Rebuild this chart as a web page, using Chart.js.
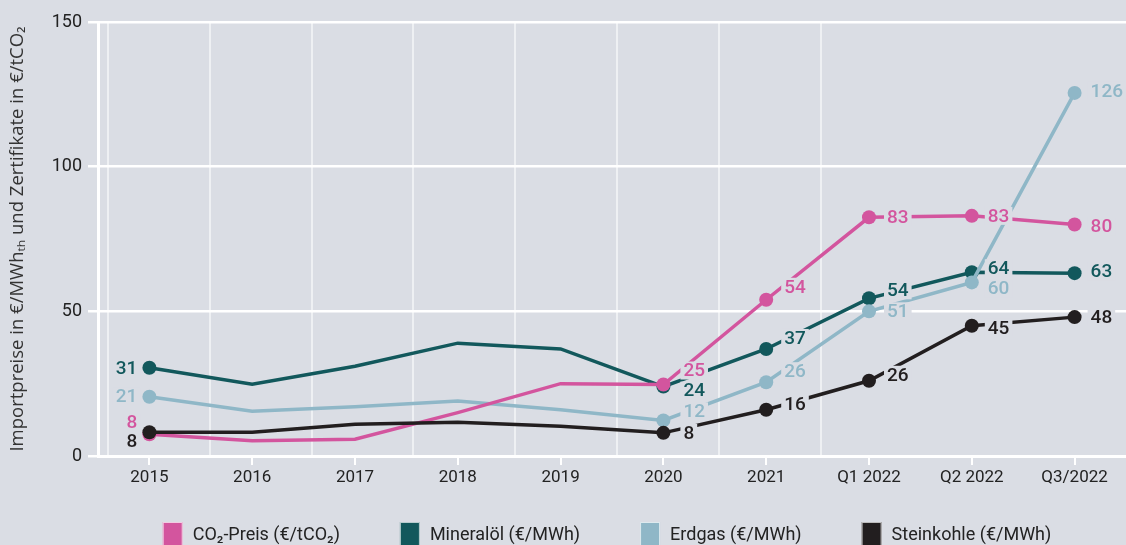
<!DOCTYPE html>
<html>
<head>
<meta charset="utf-8">
<script src="https://cdn.jsdelivr.net/npm/chart.js@4.4.1/dist/chart.umd.min.js"></script>
<style>
  html, body { margin: 0; padding: 0; background: #dadde4; overflow: hidden; }
  #wrap { width: 1133px; height: 545px; position: relative; }
</style>
</head>
<body>
<div id="wrap"><canvas id="chart"></canvas></div>
<script>
// Data
const categories = ['2015', '2016', '2017', '2018', '2019', '2020', '2021', 'Q1 2022', 'Q2 2022', 'Q3/2022'];
const co2 = [7.5, 5.3, 5.8, 15, 25, 24.7, 54, 82.5, 83, 80];
const mineraloel = [30.5, 24.8, 31, 39, 37, 24, 37, 54.5, 63.5, 63.2];
const erdgas = [20.5, 15.5, 17, 19, 16, 12.3, 25.5, 50, 60, 125.5];
const steinkohle = [8.2, 8.2, 11, 11.7, 10.3, 8, 16, 26, 45, 48];

const co2Labels = ['8', null, null, null, null, '25', '54', '83', '83', '80'];
const mineraloelLabels = ['31', null, null, null, null, '24', '37', '54', '64', '63'];
const erdgasLabels = ['21', null, null, null, null, '12', '26', '51', '60', '126'];
const steinkohleLabels = ['8', null, null, null, null, '8', '16', '26', '45', '48'];

const yTicks = [0, 50, 100, 150];

// Styles
const BG = '#dadde4';
const colors = {
  co2: '#d3559e',
  mineral: '#12585c',
  erdgas: '#8fb7c7',
  kohle: '#221e1f'
};
const labelDx = [-12, 0, 0, 0, 0, 20, 18, 18, 16, 16];
// vertical label shift per dataset (same order as datasets)
const labelDy = [
  [-12, 0, 0, 0, 0, -14, -13, 0, 0, 2],
  [0, 0, 0, 0, 0, 4, -11, -8, -4, -2],
  [0, 0, 0, 0, 0, -9, -11, 0, 6, -2],
  [9, 0, 0, 0, 0, 0, -5, -6, 2, 0]
];

function pointSizes(labels) {
  return labels.map(l => l === null ? 0 : 7);
}

function makeSet(label, data, labels, color, order) {
  return {
    label: label,
    data: data,
    valueLabels: labels,
    borderColor: color,
    backgroundColor: color,
    borderWidth: 3.5,
    pointRadius: pointSizes(labels),
    pointHoverRadius: pointSizes(labels),
    pointBorderWidth: 0,
    tension: 0,
    order: order
  };
}

const valueLabelPlugin = {
  id: 'valueLabels',
  afterDatasetsDraw(chart) {
    const ctx = chart.ctx;
    ctx.save();
    ctx.font = '500 19px Roboto';
    ctx.textBaseline = 'middle';
    chart.data.datasets.forEach((ds, i) => {
      const meta = chart.getDatasetMeta(i);
      ds.valueLabels.forEach((txt, j) => {
        if (txt === null) return;
        const pt = meta.data[j];
        const x = pt.x + labelDx[j];
        const y = pt.y + labelDy[i][j];
        const w = ctx.measureText(txt).width;
        const left = labelDx[j] < 0 ? x - w : x;
        ctx.fillStyle = BG;
        ctx.fillRect(left - 3, y - 9, w + 6, 18);
        ctx.fillStyle = ds.borderColor;
        ctx.textAlign = 'left';
        ctx.fillText(txt, left, y + 1);
      });
    });
    ctx.restore();
  }
};

const legendPlugin = {
  id: 'boxLegend',
  afterDraw(chart) {
    const ctx = chart.ctx;
    ctx.save();
    ctx.font = '18px Roboto';
    ctx.textBaseline = 'middle';
    const gap = 60, box = 20, textGap = 10;
    const items = chart.data.datasets.map(ds => ({ text: ds.label, color: ds.borderColor, w: ctx.measureText(ds.label).width }));
    const total = items.reduce((s, it) => s + box + textGap + it.w, 0) + gap * (items.length - 1);
    let x = 607 - total / 2;
    const top = 522;
    items.forEach(it => {
      ctx.fillStyle = it.color;
      ctx.fillRect(x, top, box, 24);
      ctx.strokeStyle = 'rgba(255,255,255,0.7)';
      ctx.lineWidth = 1;
      ctx.strokeRect(x + 0.5, top + 0.5, box - 1, 23);
      ctx.fillStyle = '#222';
      ctx.fillText(it.text, x + box + textGap, top + 13);
      x += box + textGap + it.w + gap;
    });
    ctx.restore();
  }
};

const chart = new Chart(document.getElementById('chart'), {
  type: 'line',
  data: {
    labels: categories,
    datasets: [
      makeSet('CO\u2082-Preis (\u20ac/tCO\u2082)', co2, co2Labels, colors.co2, 2),
      makeSet('Mineral\u00f6l (\u20ac/MWh)', mineraloel, mineraloelLabels, colors.mineral, 4),
      makeSet('Erdgas (\u20ac/MWh)', erdgas, erdgasLabels, colors.erdgas, 3),
      makeSet('Steinkohle (\u20ac/MWh)', steinkohle, steinkohleLabels, colors.kohle, 1)
    ]
  },
  options: {
    responsive: true,
    maintainAspectRatio: false,
    animation: false,
    layout: { padding: { top: 22, right: 0, bottom: 0, left: 0 } },
    plugins: {
      legend: { display: false },
      tooltip: { enabled: false }
    },
    scales: {
      x: {
        type: 'category',
        offset: true,
        grid: { drawOnChartArea: false, drawTicks: true, tickLength: 9, color: '#fff', lineWidth: 2, offset: false },
        border: { display: true, color: '#fff', width: 3 },
        ticks: { color: '#222', font: { family: 'Roboto', size: 17 }, padding: 3, maxRotation: 0, autoSkip: false },
        afterFit(scale) {
          scale.height = 89;
          scale.paddingLeft = 0;
          scale.paddingRight = 0;
        }
      },
      xg: {
        type: 'linear',
        position: 'bottom',
        min: -0.098,
        max: 10.0,
        afterBuildTicks(axis) { axis.ticks = [0, 1, 2, 3, 4, 5, 6, 7].map(v => ({ value: v })); },
        grid: { color: 'rgba(255,255,255,0.55)', lineWidth: 2, drawTicks: false },
        border: { display: false },
        ticks: { display: false },
        afterFit(scale) {
          scale.height = 0;
          scale.paddingLeft = 0;
          scale.paddingRight = 0;
        }
      },
      y: {
        min: 0,
        max: 150,
        afterBuildTicks(axis) { axis.ticks = yTicks.map(v => ({ value: v })); },
        grid: { color: '#fff', lineWidth: 2.5, tickLength: 10 },
        border: { display: true, color: '#fff', width: 3 },
        ticks: { color: '#222', font: { family: 'Roboto', size: 18 }, padding: 6 },
        title: {
          display: true,
          text: 'Importpreise in \u20ac/MWh\u209c\u2095 und Zertifikate in \u20ac/tCO\u2082',
          color: '#333',
          font: { family: 'Open Sans', size: 18.5 },
          padding: { top: 7, bottom: 0 }
        },
        afterFit(scale) { scale.width = 98; }
      }
    }
  },
  plugins: [valueLabelPlugin, legendPlugin]
});
</script>
</body>
</html>
